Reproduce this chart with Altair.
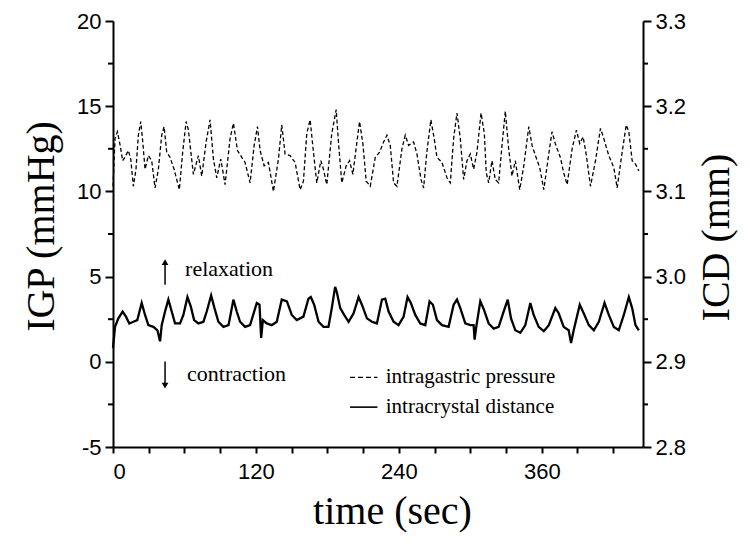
import altair as alt
import pandas as pd

# ---------------- data ----------------
# intragastric pressure (IGP, mmHg) - dashed trace, left axis
igp_t = [0.0, 1.7, 3.7, 6.0, 8.1, 10.0, 12.9, 14.9, 17.1, 19.3, 21.3, 23.3, 25.0, 26.9, 29.7, 32.5, 35.3, 38.1,
         40.9, 42.9, 45.1, 47.9, 51.3, 55.7, 58.5, 61.4, 63.3, 67.5, 71.7, 74.5, 78.2, 81.5, 84.3, 87.1, 90.5,
         94.1, 98.3, 101.1, 104.5, 108.1, 110.9, 115.1, 118.5, 121.3, 123.5, 126.9, 130.5, 134.7, 138.9, 141.7,
         144.5, 148.7, 152.9, 157.1, 159.9, 162.7, 165.5, 168.3, 171.1, 174.5, 176.7, 179.5, 183.7, 187.4,
         189.3, 192.1, 195.8, 198.6, 201.4, 204.8, 207.0, 209.8, 212.6, 216.0, 220.2, 223.8, 227.2, 230.0,
         232.8, 235.6, 238.4, 242.6, 245.4, 248.2, 252.4, 255.2, 258.6, 260.8, 263.5, 266.9, 269.7, 272.0,
         276.2, 280.4, 283.2, 286.0, 288.8, 291.6, 294.4, 297.2, 300.0, 302.8, 305.6, 309.0, 311.8, 313.4,
         315.4, 318.2, 321.0, 323.8, 326.6, 329.4, 332.2, 335.0, 337.8, 341.5, 344.9, 349.1, 351.9, 354.7,
         358.3, 361.7, 365.9, 368.6, 371.4, 375.6, 378.4, 381.3, 385.5, 389.1, 391.9, 394.7, 397.5, 400.9,
         405.1, 409.3, 412.1, 416.3, 420.5, 423.3, 427.5, 430.9, 433.1, 435.9, 438.7, 441.5]
igp_v = [10.3, 13.1, 13.5, 12.7, 11.8, 12.0, 12.4, 11.9, 10.3, 11.3, 13.3, 14.1, 12.9, 11.3, 12.1, 11.8, 10.2, 11.3,
         13.3, 13.8, 12.3, 12.0, 11.3, 10.1, 12.3, 14.1, 13.6, 11.0, 12.1, 10.9, 12.9, 14.2, 11.9, 10.8, 11.9,
         10.4, 13.1, 14.0, 12.4, 12.0, 11.7, 10.5, 12.7, 13.8, 12.4, 11.5, 11.7, 10.0, 11.9, 13.9,
         12.2, 12.1, 11.7, 10.1, 10.6, 13.4, 14.2, 12.3, 10.5, 11.8, 11.3, 10.4, 13.4, 14.8,
         12.9, 10.5, 11.5, 11.8, 11.0, 12.9, 14.1, 12.8, 10.6, 10.3, 12.0, 12.3, 12.9, 13.3,
         12.7, 10.5, 10.3, 12.5, 13.3, 12.7, 12.9, 12.2, 10.7, 10.2, 12.3, 14.2, 13.1, 12.0,
         11.7, 10.8, 10.5, 13.1, 14.6, 13.1, 10.7, 11.8, 12.2, 11.3, 12.3, 14.6, 13.4, 11.1,
         10.5, 11.8, 10.7, 10.5, 12.7, 14.7, 12.5, 10.9, 11.8, 10.1, 11.5, 13.8, 12.7, 12.1,
         11.4, 10.1, 12.2, 13.5, 12.8, 12.0, 11.1, 10.4, 12.5, 13.6, 12.8, 13.2, 12.1, 10.3,
         11.8, 13.7, 13.1, 12.1, 11.4, 10.2, 12.3, 13.9, 13.5, 11.8, 11.6, 11.2]

# intracrystal distance (ICD, mm) - solid trace, right axis
icd_t = [0.0, 1.7, 4.5, 8.1, 10.9, 13.7, 17.1, 20.4, 24.1, 26.9, 29.7, 33.9, 37.3, 39.5, 40.9, 43.7, 46.5, 49.3,
         52.1, 56.3, 59.1, 62.5, 65.3, 68.1, 71.7, 75.9, 78.7, 82.4, 85.2, 88.5, 92.7, 97.0, 101.1, 103.9,
         106.7, 110.9, 115.1, 120.7, 123.0, 124.4, 125.8, 129.1, 133.3, 137.5, 141.7, 146.0, 150.1, 154.3,
         159.9, 164.1, 166.1, 168.9, 172.6, 176.7, 180.9, 183.7, 186.5, 187.9, 190.8, 194.1, 197.8, 202.0,
         206.2, 209.0, 213.2, 217.4, 221.6, 225.8, 228.6, 231.4, 235.6, 239.8, 244.0, 247.3, 250.1, 253.8,
         258.0, 262.2, 265.8, 268.6, 272.0, 276.2, 281.8, 286.0, 288.8, 291.6, 295.8, 300.0, 302.8, 303.6,
         305.0, 308.4, 311.2, 315.4, 319.6, 323.8, 328.0, 331.4, 334.2, 337.8, 342.0, 346.2, 350.4, 353.2,
         357.4, 361.7, 365.9, 371.4, 374.2, 378.4, 382.6, 384.6, 386.8, 391.9, 395.2, 399.5, 403.7, 407.9,
         412.7, 416.3, 420.5, 424.7, 428.9, 433.1, 435.9, 438.7, 441.5]
icd_mm = [2.916, 2.941, 2.951, 2.959, 2.953, 2.945, 2.947, 2.949, 2.969, 2.955, 2.943, 2.941, 2.937, 2.924, 2.943,
          2.959, 2.973, 2.959, 2.945, 2.945, 2.955, 2.976, 2.965, 2.949, 2.945, 2.947, 2.959, 2.978, 2.963,
          2.947, 2.941, 2.943, 2.973, 2.959, 2.947, 2.941, 2.943, 2.969, 2.967, 2.928, 2.949, 2.945, 2.943,
          2.947, 2.973, 2.971, 2.955, 2.949, 2.953, 2.974, 2.976, 2.967, 2.947, 2.941, 2.941, 2.963, 2.988,
          2.982, 2.963, 2.955, 2.947, 2.957, 2.976, 2.967, 2.951, 2.947, 2.945, 2.973, 2.974, 2.959, 2.947,
          2.943, 2.953, 2.976, 2.969, 2.955, 2.945, 2.943, 2.971, 2.967, 2.949, 2.943, 2.941, 2.967, 2.973,
          2.963, 2.945, 2.943, 2.943, 2.926, 2.941, 2.971, 2.962, 2.945, 2.939, 2.941, 2.959, 2.973, 2.951,
          2.937, 2.934, 2.943, 2.969, 2.955, 2.941, 2.936, 2.943, 2.963, 2.957, 2.941, 2.937, 2.922, 2.937,
          2.967, 2.957, 2.943, 2.937, 2.947, 2.969, 2.955, 2.941, 2.937, 2.955, 2.976, 2.963, 2.943, 2.937]

# axis ticks
x_ticks = [0, 30, 60, 90, 120, 150, 180, 210, 240, 270, 300, 330, 360, 390, 420]
left_ticks = [-5, 0, 5, 10, 15, 20]
left_minor = [-2.5, 2.5, 7.5, 12.5, 17.5]
right_ticks = [2.8, 2.9, 3.0, 3.1, 3.2, 3.3]
right_minor = [2.85, 2.95, 3.05, 3.15, 3.25]

# annotations (in time / IGP units)
ann_text = ["relaxation", "contraction"]
ann_t = [60.5, 62.2]
ann_v = [5.46, -0.74]
arrow_t = [43.7, 43.7]
arrow_from = [4.52, 0.02]
arrow_to = [5.85, -1.40]
arrow_shape = ["triangle-up", "triangle-down"]
arrow_head = [5.85, -1.40]

# legend entries
leg_text = ["intragastric pressure", "intracrystal distance"]
leg_t0 = [199.0, 199.0]
leg_t1 = [222.0, 222.0]
leg_v = [-0.91, -2.66]
leg_text_t = [229.0, 229.0]

# ---------------- chart ----------------
W, H = 530, 426
SERIF = "Liberation Serif"
SANS = "Liberation Sans"

igp_df = pd.DataFrame({"t": igp_t, "v": igp_v})
icd_df = pd.DataFrame({"t": icd_t, "mm": icd_mm})
lmin_df = pd.DataFrame({"v": left_minor})
rmin_df = pd.DataFrame({"mm": right_minor})
ann_df = pd.DataFrame({"label": ann_text, "t": ann_t, "v": ann_v})
arr_df = pd.DataFrame({"t": arrow_t, "v0": arrow_from, "v1": arrow_to,
                       "shape": arrow_shape, "vh": arrow_head})
leg_df = pd.DataFrame({"label": leg_text, "t0": leg_t0, "t1": leg_t1, "v": leg_v, "tt": leg_text_t})

xs = alt.Scale(domain=[0, 445], nice=False, zero=False)
yl = alt.Scale(domain=[-5, 20], nice=False, zero=False)
yr = alt.Scale(domain=[2.8, 3.3], nice=False, zero=False)

x_axis = alt.Axis(values=x_ticks, labelExpr="datum.value % 120 === 0 ? datum.label : ''",
                  title="time (sec)", tickSize=6, labelPadding=8,
                  titleX=279, titleY=76, titleBaseline="alphabetic", titleAlign="center")
left_axis = alt.Axis(values=left_ticks, labelExpr="'' + datum.value", title="IGP (mmHg)",
                     orient="left", tickSize=8, labelPadding=4, titleAngle=270,
                     titleX=-60, titleY=205, titleAlign="center", titleBaseline="alphabetic")
right_axis = alt.Axis(values=right_ticks, format=".1f", title="ICD (mm)", orient="right",
                      tickSize=8, labelPadding=4, titleAngle=270,
                      titleX=85, titleY=216, titleAlign="center", titleBaseline="alphabetic")


def X(field):
    return alt.X(field, type="quantitative", scale=xs, axis=x_axis)


def YL(field):
    return alt.Y(field, type="quantitative", scale=yl, axis=left_axis)


def YR(field):
    return alt.Y(field, type="quantitative", scale=yr, axis=right_axis)


igp_line = alt.Chart(igp_df).mark_line(color="black", strokeWidth=1.3, strokeDash=[4, 2.5]).encode(
    x=X("t"), y=YL("v"))
lminor = alt.Chart(lmin_df).mark_rule(color="black", strokeWidth=2).encode(
    y=YL("v"), x=alt.value(0), x2=alt.value(-5))

ann = alt.Chart(ann_df).mark_text(font=SERIF, fontSize=22, align="left", baseline="middle",
                                  color="black").encode(x=X("t"), y=YL("v"), text="label:N")
arr_shaft = alt.Chart(arr_df).mark_rule(color="black", strokeWidth=1.5).encode(
    x=X("t"), y=YL("v0"), y2="v1:Q")
arr_head = alt.Chart(arr_df).mark_point(filled=True, color="black", size=45, opacity=1).encode(
    x=X("t"), y=YL("vh"), shape=alt.Shape("shape:N", scale=None))

leg_dash = alt.Chart(leg_df.iloc[[0]]).mark_rule(color="black", strokeWidth=1.3, strokeDash=[5, 3]).encode(
    x=X("t0"), x2="t1:Q", y=YL("v"))
leg_solid = alt.Chart(leg_df.iloc[[1]]).mark_rule(color="black", strokeWidth=1.6).encode(
    x=X("t0"), x2="t1:Q", y=YL("v"))
leg_txt = alt.Chart(leg_df).mark_text(font=SERIF, fontSize=21, align="left", baseline="middle",
                                      color="black").encode(x=X("tt"), y=YL("v"), text="label:N")

icd_line = alt.Chart(icd_df).mark_line(color="black", strokeWidth=2.3).encode(
    x=X("t"), y=YR("mm"))
rminor = alt.Chart(rmin_df).mark_rule(color="black", strokeWidth=2).encode(
    y=YR("mm"), x=alt.value(W), x2=alt.value(W + 5))

left_group = alt.layer(igp_line, lminor, ann, arr_shaft, arr_head, leg_dash, leg_solid, leg_txt)
right_group = alt.layer(icd_line, rminor)

chart = alt.layer(left_group, right_group).resolve_scale(y="independent").properties(
    width=W, height=H, autosize="none",
    padding={"left": 105, "top": 13, "right": 97, "bottom": 93},
).configure_view(stroke=None).configure_axis(
    grid=False, domainColor="black", domainWidth=2, tickColor="black", tickWidth=2,
    labelFont=SANS, labelFontSize=22, labelColor="black",
    titleFont=SERIF, titleFontSize=40, titleFontWeight="normal", titleColor="black",
)

chart.save("out.html", embed_options={"renderer": "svg", "actions": False})
